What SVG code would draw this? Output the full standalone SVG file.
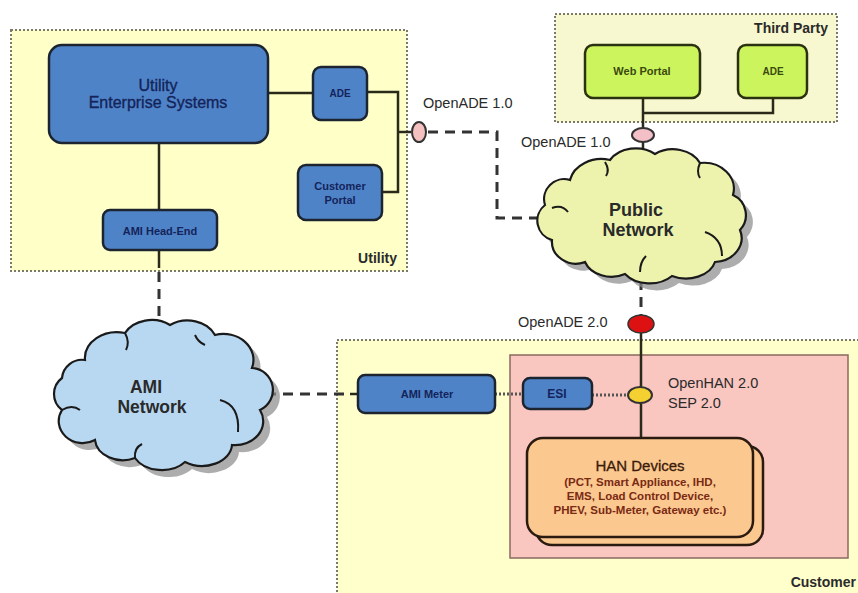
<svg xmlns="http://www.w3.org/2000/svg" width="858" height="593" viewBox="0 0 858 593">
<style>
.area{stroke:#7a7a6a;stroke-width:2;stroke-dasharray:2,2}
.blue{fill:#4f83c8;stroke:#1c2430;stroke-width:2.5}
.green{fill:#ccf45c;stroke:#2a3010;stroke-width:2.5}
.bt{font-family:"Liberation Sans",Arial,sans-serif;font-weight:bold;font-size:11px;fill:#14245a;text-anchor:middle;dominant-baseline:central}
.gt{font-family:"Liberation Sans",Arial,sans-serif;font-weight:bold;font-size:11px;fill:#3a4a10;text-anchor:middle;dominant-baseline:central}
.lbl{font-family:"Liberation Sans",Arial,sans-serif;font-size:14.5px;fill:#2a2a2a;dominant-baseline:central}
.area-t{font-family:"Liberation Sans",Arial,sans-serif;font-weight:bold;font-size:14px;fill:#2a2a2a;text-anchor:end;dominant-baseline:central}
.cloud-t{font-family:"Liberation Sans",Arial,sans-serif;font-weight:bold;font-size:18px;fill:#2a2a2a;text-anchor:middle;dominant-baseline:central}
.solid{fill:none;stroke:#2a2a1a;stroke-width:2.5}
.dash{fill:none;stroke:#333;stroke-width:3;stroke-dasharray:10,7}
.dot{fill:none;stroke:#555;stroke-width:3;stroke-dasharray:2,2}
.curl{fill:none;stroke:#1a1a1a;stroke-width:2}
</style>
<rect width="858" height="593" fill="#ffffff"/>

<g id="utility-area">
<rect class="area" x="11" y="30" width="396" height="241" fill="#ffffc8"/>
<text class="area-t" x="397" y="258">Utility</text>
</g>
<g id="third-party-area">
<rect class="area" x="555" y="14" width="282" height="108" fill="#f8f8d0"/>
<text class="area-t" x="828" y="28">Third Party</text>
</g>
<g id="customer-area">
<rect class="area" x="337" y="340" width="530" height="262" fill="#ffffcc"/>
<text class="area-t" x="856" y="582">Customer</text>
</g>
<g id="han-area">
<rect x="510" y="355" width="338" height="203" fill="#f9c6c0" stroke="#8a6a60" stroke-width="1.5"/>
</g>

<g id="connectors">
<path class="solid" d="M268,93 H313"/>
<path class="solid" d="M367,92 H398 V192 H382"/>
<path class="solid" d="M398,132 H411"/>
<path class="solid" d="M159,143 V210"/>
<path class="solid" d="M159,250 V268"/>
<path class="dash" d="M159,272 V326"/>
<path class="dash" d="M428,132 H497 V218 H542"/>
<path class="solid" d="M643,98 V128"/>
<path class="solid" d="M773,98 V113 H643"/>
<path class="solid" d="M643,142 V155"/>
<path class="dash" d="M641,280 V315"/>
<path class="solid" d="M641,333 V438"/>
<path class="dash" d="M266,394 H350"/>
<path class="solid" d="M350,394 H358"/>
<path class="dot" d="M495,394 H523"/>
<path class="dot" d="M592,395 H628"/>
</g>

<g id="ues">
<rect class="blue" x="49" y="45" width="219" height="98" rx="13"/>
<text class="bt" style="font-weight:normal;font-size:16px;stroke:#14245a;stroke-width:0.35" x="158" y="85">Utility</text>
<text class="bt" style="font-weight:normal;font-size:16px;stroke:#14245a;stroke-width:0.35" x="158" y="102">Enterprise Systems</text>
</g>
<g id="ade-utility">
<rect class="blue" x="313" y="67" width="54" height="53" rx="8"/>
<text class="bt" style="font-size:10px" x="340" y="93">ADE</text>
</g>
<g id="customer-portal">
<rect class="blue" x="298" y="165" width="84" height="55" rx="8"/>
<text class="bt" x="340" y="186">Customer</text>
<text class="bt" x="340" y="200">Portal</text>
</g>
<g id="ami-head-end">
<rect class="blue" x="103" y="210" width="114" height="40" rx="7"/>
<text class="bt" x="160" y="231">AMI Head-End</text>
</g>

<g id="web-portal">
<rect class="green" x="585" y="45" width="115" height="53" rx="8"/>
<text class="gt" x="642" y="71">Web Portal</text>
</g>
<g id="ade-third">
<rect class="green" x="738" y="45" width="69" height="53" rx="8"/>
<text class="gt" style="font-size:10px" x="773" y="71">ADE</text>
</g>

<g id="openade1-utility">
<ellipse cx="419" cy="132" rx="7" ry="10" fill="#f4c0c0" stroke="#333" stroke-width="2"/>
<text class="lbl" x="423" y="103">OpenADE 1.0</text>
</g>
<g id="openade1-third">
<ellipse cx="643" cy="135" rx="11" ry="7" fill="#f4c0c8" stroke="#333" stroke-width="2"/>
<text class="lbl" x="521" y="142">OpenADE 1.0</text>
</g>

<g id="public-network">
<path transform="translate(7,7)" fill="#8a8a8a" opacity="0.7" d="M570,180 A32,26 0 0 1 610,160 A30,24 0 0 1 655,154 A30,24 0 0 1 700,163 A30,26 0 0 1 733,195 A22,22 0 0 1 740,230 A28,24 0 0 1 715,262 A30,22 0 0 1 672,276 A30,22 0 0 1 625,274 A28,22 0 0 1 585,262 A24,22 0 0 1 552,240 A20,20 0 0 1 545,205 A20,20 0 0 1 570,180 Z"/>
<path fill="#edf3ad" stroke="#1a1a1a" stroke-width="2.2" d="M570,180 A32,26 0 0 1 610,160 A30,24 0 0 1 655,154 A30,24 0 0 1 700,163 A30,26 0 0 1 733,195 A22,22 0 0 1 740,230 A28,24 0 0 1 715,262 A30,22 0 0 1 672,276 A30,22 0 0 1 625,274 A28,22 0 0 1 585,262 A24,22 0 0 1 552,240 A20,20 0 0 1 545,205 A20,20 0 0 1 570,180 Z"/>
<path class="curl" d="M552,208 Q562,204 568,212"/>
<path class="curl" d="M605,162 Q610,170 606,176"/>
<path class="curl" d="M700,163 Q696,172 700,178"/>
<path class="curl" d="M705,232 Q722,238 722,256"/>
<path class="curl" d="M640,272 Q640,262 646,256"/>
<text class="cloud-t" x="636" y="210">Public</text>
<text class="cloud-t" x="638" y="230">Network</text>
</g>

<g id="ami-network">
<path transform="translate(7,7)" fill="#8a8a8a" opacity="0.7" d="M85,360 A32,26 0 0 1 125,333 A30,24 0 0 1 170,325 A30,24 0 0 1 215,335 A30,26 0 0 1 252,368 A22,22 0 0 1 260,410 A28,24 0 0 1 232,445 A30,22 0 0 1 185,462 A30,22 0 0 1 135,458 A28,22 0 0 1 95,440 A24,22 0 0 1 62,410 A20,20 0 0 1 62,378 A20,20 0 0 1 85,360 Z"/>
<path fill="#b8d8f2" stroke="#1a1a1a" stroke-width="2.2" d="M85,360 A32,26 0 0 1 125,333 A30,24 0 0 1 170,325 A30,24 0 0 1 215,335 A30,26 0 0 1 252,368 A22,22 0 0 1 260,410 A28,24 0 0 1 232,445 A30,22 0 0 1 185,462 A30,22 0 0 1 135,458 A28,22 0 0 1 95,440 A24,22 0 0 1 62,410 A20,20 0 0 1 62,378 A20,20 0 0 1 85,360 Z"/>
<path class="curl" d="M62,410 Q72,404 80,410"/>
<path class="curl" d="M125,333 Q130,342 126,350"/>
<path class="curl" d="M195,335 Q198,342 205,345"/>
<path class="curl" d="M220,400 Q240,405 238,432"/>
<path class="curl" d="M135,458 Q134,448 142,444"/>
<text class="cloud-t" style="font-size:17.5px" x="146" y="387">AMI</text>
<text class="cloud-t" style="font-size:17.5px" x="152" y="407">Network</text>
</g>

<g id="openade2">
<ellipse cx="641" cy="324" rx="13" ry="9" fill="#dd1111" stroke="#333" stroke-width="1.5"/>
<text class="lbl" x="518" y="322">OpenADE 2.0</text>
</g>

<g id="ami-meter">
<rect class="blue" x="358" y="375" width="137" height="38" rx="7"/>
<text class="bt" x="427" y="394">AMI Meter</text>
</g>
<g id="esi">
<rect class="blue" x="523" y="378" width="69" height="31" rx="7"/>
<text class="bt" style="font-size:12px" x="557" y="394">ESI</text>
</g>

<g id="openhan">
<ellipse cx="640" cy="395" rx="12" ry="8" fill="#f4d030" stroke="#333" stroke-width="2"/>
<text class="lbl" x="668" y="383">OpenHAN 2.0</text>
<text class="lbl" x="668" y="403">SEP 2.0</text>
</g>

<g id="han-devices">
<rect x="536" y="446" width="227" height="99" rx="16" fill="#fbc88f" stroke="#2a1a10" stroke-width="2.5"/>
<rect x="527" y="438" width="226" height="99" rx="16" fill="#fbc88f" stroke="#2a1a10" stroke-width="2.5"/>
<text class="bt" style="font-weight:normal;font-size:15px;fill:#3a1a0a;stroke:#3a1a0a;stroke-width:0.3" x="640" y="465">HAN Devices</text>
<text class="bt" style="font-size:11.5px;fill:#7a2a14" x="640" y="482">(PCT, Smart Appliance, IHD,</text>
<text class="bt" style="font-size:11.5px;fill:#7a2a14" x="640" y="496">EMS, Load Control Device,</text>
<text class="bt" style="font-size:11.5px;fill:#7a2a14" x="640" y="510">PHEV, Sub-Meter, Gateway  etc.)</text>
</g>
</svg>
